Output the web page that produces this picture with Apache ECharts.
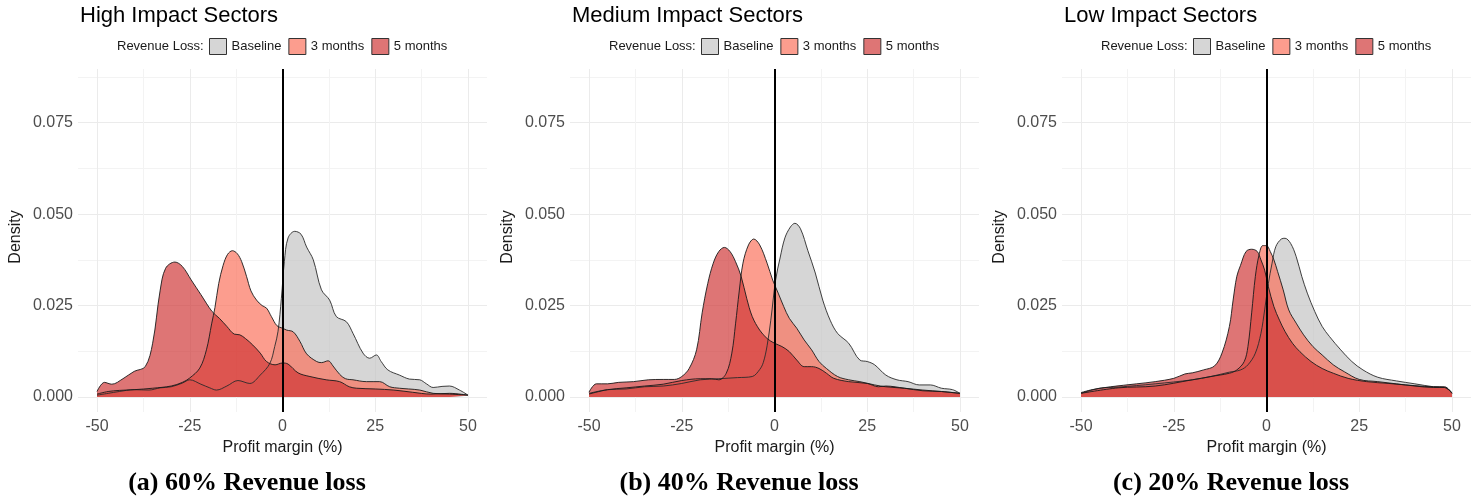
<!DOCTYPE html>
<html><head><meta charset="utf-8">
<script src="https://cdn.jsdelivr.net/npm/echarts@6/dist/echarts.min.js"></script>
<style>html,body{margin:0;padding:0;background:#fff}#c{width:1476px;height:499px}</style>
</head><body><div id="c"></div>
<script>
// ---------- texts ----------
const seriesNames = ['Baseline', '3 months', '5 months'];
const panelTitles = ['High Impact Sectors', 'Medium Impact Sectors', 'Low Impact Sectors'];
const captions = ['(a) 60% Revenue loss', '(b) 40% Revenue loss', '(c) 20% Revenue loss'];
const legendTitle = 'Revenue Loss:';
const xName = 'Profit margin (%)';
const yName = 'Density';
const xTickLabels = [-50, -25, 0, 25, 50];
const yTickLabels = [0, 0.025, 0.05, 0.075];

// ---------- data: [profit margin, density] ----------
const highBaseline = [[-50,0.0005],[-47,0.001],[-44,0.0015],[-40,0.002],[-36,0.0019],[-33,0.0025],[-30,0.0028],[-27,0.0038],[-25,0.0047],[-22,0.0035],[-19.6,0.0025],[-17.8,0.0019],[-15,0.003],[-12,0.0045],[-8.8,0.0037],[-6,0.006],[-3.4,0.0092],[-2.1,0.0138],[-1.2,0.018],[-0.3,0.027],[0.5,0.037],[1.5,0.0435],[3.3,0.0453],[5,0.0445],[6.5,0.041],[8.3,0.0375],[10.5,0.0293],[12.7,0.0265],[14.5,0.022],[17.2,0.0206],[19,0.0174],[21.7,0.012],[23.5,0.0106],[25.3,0.0115],[26.6,0.0097],[28.4,0.0074],[31.5,0.006],[34.2,0.0049],[37,0.0047],[38.8,0.0036],[40.6,0.0026],[43,0.0029],[45,0.003],[47.7,0.0019],[50,0.0005]];
const high3m = [[-50,0.0008],[-47,0.0015],[-44,0.0018],[-40,0.002],[-35,0.0024],[-30,0.003],[-27,0.004],[-25,0.0052],[-22.3,0.0079],[-20.5,0.0129],[-19.1,0.02],[-18.2,0.0245],[-17.2,0.031],[-16,0.036],[-14.8,0.039],[-13.5,0.04],[-12.2,0.0392],[-11,0.037],[-9.7,0.033],[-8.5,0.029],[-7,0.0265],[-5.5,0.025],[-4.3,0.0243],[-3,0.022],[-1.5,0.0195],[0,0.0188],[1.1,0.0183],[2.9,0.0178],[4.7,0.0152],[6.5,0.0118],[9.2,0.0097],[10.5,0.0094],[12.3,0.0099],[13.6,0.0085],[15.4,0.0062],[17,0.005],[19,0.0047],[22.6,0.0042],[26.2,0.0042],[28.9,0.0028],[31.5,0.0024],[34,0.0022],[37,0.0019],[40.6,0.001],[45,0.0008],[50,0.0005]];
const high5m = [[-50,0.0015],[-48,0.004],[-46,0.0035],[-43,0.005],[-40,0.007],[-37,0.0083],[-35,0.0147],[-33,0.029],[-31.5,0.0352],[-29,0.0369],[-27,0.0357],[-24.6,0.032],[-22,0.028],[-19,0.0234],[-17,0.0215],[-15,0.0193],[-13,0.0172],[-11.5,0.017],[-10,0.016],[-8,0.0142],[-6,0.012],[-4.3,0.0097],[-2,0.0088],[0,0.0093],[1.5,0.009],[4.2,0.0066],[7.4,0.0056],[11.8,0.0047],[15.4,0.0042],[18,0.0028],[20,0.0024],[25,0.0022],[30,0.0019],[35,0.0013],[40,0.0008],[45,0.001],[50,0.0005]];

const medBaseline = [[-50,0.001],[-45,0.002],[-40,0.0022],[-35,0.0028],[-30,0.003],[-25,0.0037],[-20,0.0047],[-15,0.005],[-10,0.0053],[-6,0.0056],[-4,0.0075],[-3,0.0095],[-2,0.014],[-1,0.021],[0.3,0.032],[1.5,0.038],[2.8,0.0435],[4.3,0.0465],[5.5,0.0475],[7,0.046],[9,0.04],[11,0.0339],[13,0.0265],[15,0.021],[17,0.0174],[20,0.0147],[23,0.0101],[25,0.0097],[27,0.0088],[30,0.006],[33,0.0047],[36,0.0042],[39,0.0033],[42,0.0033],[45,0.0024],[48,0.002],[50,0.001]];
const med3m = [[-50,0.0008],[-45,0.002],[-40,0.0025],[-35,0.003],[-30,0.0035],[-25,0.0045],[-20,0.005],[-17,0.005],[-15,0.0047],[-13,0.0065],[-11.5,0.012],[-10.5,0.02],[-9.5,0.029],[-8.5,0.0366],[-7,0.0416],[-5.6,0.0432],[-4,0.0416],[-2,0.0366],[-0.5,0.032],[1,0.0284],[2.5,0.0247],[4,0.0215],[6,0.0188],[8,0.0156],[10,0.0129],[12,0.0097],[14,0.0078],[17,0.0056],[20,0.0047],[23,0.0042],[27,0.0033],[30,0.0028],[35,0.0024],[40,0.0019],[45,0.0015],[50,0.001]];
const med5m = [[-50,0.0013],[-48,0.0036],[-45,0.0036],[-42,0.004],[-38,0.0042],[-34,0.0047],[-30,0.0048],[-27,0.0048],[-25,0.0056],[-23,0.0078],[-21,0.0129],[-19.5,0.023],[-18,0.031],[-16.5,0.0366],[-15,0.0398],[-13.5,0.0409],[-12,0.0398],[-10.5,0.037],[-9,0.033],[-7.5,0.027],[-6,0.022],[-4,0.0183],[-2,0.016],[0,0.0147],[2,0.0138],[4,0.0124],[6,0.0101],[8,0.0083],[10,0.0083],[12,0.0078],[14,0.0065],[16,0.0051],[20,0.0042],[25,0.0037],[28,0.0028],[30,0.003],[35,0.0024],[40,0.0017],[45,0.0015],[50,0.001]];

const lowBaseline = [[-50,0.001],[-45,0.0024],[-40,0.0027],[-30,0.0036],[-20,0.0047],[-15,0.0056],[-10,0.0068],[-7,0.0074],[-5,0.0088],[-3,0.012],[-1.5,0.0174],[-0.5,0.0238],[0.5,0.031],[1.5,0.0366],[2.5,0.0411],[4,0.0432],[5,0.0434],[6.5,0.042],[8,0.0384],[9.5,0.033],[11,0.0284],[13,0.0234],[15,0.0193],[17,0.0165],[20,0.0129],[23,0.0097],[26,0.0074],[30,0.0054],[35,0.0044],[40,0.0036],[45,0.0028],[48,0.0026],[50,0.0012]];
const low3m = [[-50,0.001],[-40,0.0025],[-30,0.003],[-20,0.0047],[-15,0.0056],[-10,0.0065],[-8,0.0074],[-6,0.0097],[-5,0.0138],[-4,0.023],[-3,0.033],[-2,0.0389],[-1,0.0414],[0,0.0414],[1,0.0398],[2,0.0375],[3,0.0343],[4.5,0.0293],[6,0.0238],[8,0.0202],[10,0.017],[12.5,0.0138],[15,0.0115],[18,0.0088],[21,0.0069],[25,0.0048],[30,0.0042],[35,0.0036],[40,0.003],[45,0.0026],[48,0.0026],[50,0.001]];
const low5m = [[-50,0.0012],[-47,0.002],[-42,0.0028],[-35,0.0036],[-30,0.0042],[-25,0.0051],[-22,0.0063],[-20,0.0066],[-17,0.0074],[-14,0.0085],[-12,0.012],[-10,0.0193],[-9,0.0265],[-8,0.033],[-7,0.036],[-5.5,0.0398],[-4,0.0404],[-2.5,0.0398],[-1.5,0.0375],[-0.5,0.0347],[0.5,0.0302],[2,0.0247],[3.5,0.021],[5,0.0179],[7,0.0147],[9,0.0124],[12,0.0097],[15,0.0078],[18,0.0065],[22,0.0051],[27,0.0042],[33,0.0037],[40,0.0031],[45,0.0028],[48,0.0028],[50,0.001]];

const panelData = [
  [highBaseline, high3m, high5m],
  [medBaseline, med3m, med5m],
  [lowBaseline, low3m, low5m]
];

// ---------- styles ----------
const fills = ['rgba(194,194,194,0.67)', 'rgba(251,109,87,0.67)', 'rgba(206,49,49,0.67)'];
const outline = ['#2a2a2a', '#1a1a1a', '#1a1a1a'];
const SANS = '"Liberation Sans", Arial, sans-serif';
const SERIF = '"Liberation Serif", "Times New Roman", serif';
const gridMajor = '#EBEBEB', gridMinor = '#F3F3F3';
const panelOffset = 492;

const yTop = 0.0875;
const pxPerUnit = 320 / yTop;
const yMinV = -15 / pxPerUnit;
const yMaxV = yTop + 8 / pxPerUnit;

const isTick = (v, list) => list.some(t => Math.abs(t - v) < 1e-7);

const grid = [], xAxis = [], yAxis = [], series = [], legend = [], graphic = [];

panelData.forEach((sets, p) => {
  const o = p * panelOffset;
  const gH = 2 * p, gV = 2 * p + 1;
  grid.push({ left: 78 + o, top: 77, width: 409, height: 320 });
  grid.push({ left: 97 + o, top: 69, width: 371, height: 343 });

  xAxis.push({ gridIndex: gH, type: 'value', min: 0, max: 1, show: false });
  yAxis.push({
    gridIndex: gH, type: 'value', min: 0, max: yTop, interval: 0.0125,
    axisLine: { show: false }, axisTick: { show: false },
    axisLabel: { margin: 5, fontSize: 16, color: '#4D4D4D', fontFamily: SANS,
      formatter: v => isTick(v, yTickLabels) ? v.toFixed(3) : '' },
    splitLine: { show: true, lineStyle: { color: [gridMajor, gridMinor], width: 1 } },
    name: yName, nameLocation: 'middle', nameGap: 54,
    nameTextStyle: { fontSize: 16, color: '#1a1a1a', fontFamily: SANS }
  });

  xAxis.push({
    gridIndex: gV, type: 'value', min: -50, max: 50, interval: 12.5,
    axisLine: { show: false }, axisTick: { show: false },
    axisLabel: { margin: 7, fontSize: 16, color: '#4D4D4D', fontFamily: SANS,
      formatter: v => isTick(v, xTickLabels) ? String(v) : '' },
    splitLine: { show: true, lineStyle: { color: [gridMajor, gridMinor], width: 1 } },
    name: xName, nameLocation: 'middle', nameGap: 28,
    nameTextStyle: { fontSize: 16, color: '#1a1a1a', fontFamily: SANS }
  });
  yAxis.push({ gridIndex: gV, type: 'value', min: yMinV, max: yMaxV, show: false });

  sets.forEach((d, i) => {
    const s = {
      name: seriesNames[i], type: 'line', xAxisIndex: gV, yAxisIndex: gV,
      data: d, smooth: 0.35, showSymbol: false, symbol: 'none',
      lineStyle: { color: outline[i], width: 0.9 },
      itemStyle: { color: fills[i] },
      areaStyle: { color: fills[i], opacity: 1 },
      silent: true
    };
    if (i === 2) {
      s.markLine = {
        silent: true, symbol: 'none', z: 10, animation: false,
        label: { show: false },
        lineStyle: { color: '#000', width: 2, type: 'solid' },
        data: [{ xAxis: 0 }]
      };
    }
    series.push(s);
  });

  legend.push({
    left: 209 + o, top: 38, padding: 0, itemWidth: 17, itemHeight: 16, itemGap: 7,
    icon: 'rect', selectedMode: false,
    textStyle: { fontSize: 13, color: '#1a1a1a', fontFamily: SANS },
    data: seriesNames.map((n, i) => ({ name: n,
      itemStyle: { color: fills[i], borderColor: '#333', borderWidth: 1 } }))
  });

  graphic.push({ type: 'text', x: 80 + o, y: 16, silent: true,
    style: { text: panelTitles[p], font: '22px ' + SANS, fill: '#000',
      align: 'left', verticalAlign: 'middle', textAlign: 'left', textVerticalAlign: 'middle' } });
  graphic.push({ type: 'text', x: 117 + o, y: 46, silent: true,
    style: { text: legendTitle, font: '13px ' + SANS, fill: '#1a1a1a',
      align: 'left', verticalAlign: 'middle', textAlign: 'left', textVerticalAlign: 'middle' } });
  graphic.push({ type: 'text', x: 247 + o, y: 483, silent: true,
    style: { text: captions[p], font: 'bold 26px ' + SERIF, fill: '#000',
      align: 'center', verticalAlign: 'middle', textAlign: 'center', textVerticalAlign: 'middle' } });
});

const chart = echarts.init(document.getElementById('c'), null, { renderer: 'canvas' });
chart.setOption({
  animation: false,
  backgroundColor: '#fff',
  grid, xAxis, yAxis, series, legend, graphic
});
</script>
</body></html>
